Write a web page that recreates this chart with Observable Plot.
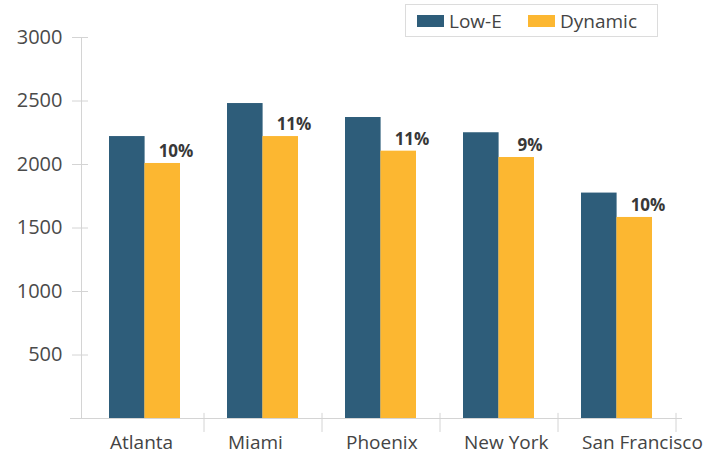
<!DOCTYPE html>
<html>
<head>
<meta charset="utf-8">
<script src="https://cdn.jsdelivr.net/npm/d3@7"></script>
<script src="https://cdn.jsdelivr.net/npm/@observablehq/plot@0.6"></script>
<style>
  html, body { margin: 0; padding: 0; background: #fff; }
  #wrap { position: relative; width: 722px; height: 457px; font-family: "Open Sans", sans-serif; }
  #legend { position: absolute; left: 405px; top: 4px; width: 253px; height: 33px; border: 1px solid #dcdcdc;
    font-size: 19px; color: #444; box-sizing: border-box; }
  .sw { display: inline-block; width: 27px; height: 12px; margin-right: 5px; }
  .item { position: absolute; top: 0; height: 31px; display: flex; align-items: center; }
</style>
</head>
<body>
<div id="wrap"><div id="legend"></div></div>
<script>
const cities = ["Atlanta", "Miami", "Phoenix", "New York", "San Francisco"];
const lowE = [2220, 2480, 2370, 2250, 1775];
const dynamic = [2008, 2220, 2105, 2055, 1583];
const savings = ["10%", "11%", "11%", "9%", "10%"];
const yTicks = [500, 1000, 1500, 2000, 2500, 3000];
const seriesNames = ["Low-E", "Dynamic"];
const seriesColors = ["#2e5d7a", "#fcb731"];

const data = cities.map((c, i) => ({city: c, lowE: lowE[i], dyn: dynamic[i], pct: savings[i]}));
const axisColor = "#d4d4d4";

const chart = Plot.plot({
  width: 722,
  height: 457,
  marginTop: 37,
  marginBottom: 39,
  marginLeft: 81,
  marginRight: 40,
  style: {fontFamily: "'Open Sans', sans-serif", background: "transparent"},
  x: {type: "band", domain: cities, paddingInner: 0.4, paddingOuter: 0.2, insetLeft: 4, insetRight: 7},
  y: {domain: [0, 3000]},
  marks: [
    Plot.frame({anchor: "left", stroke: axisColor}),
    Plot.ruleY([0], {stroke: axisColor, insetLeft: -11}),
    Plot.ruleX(cities, {x: d => d, dx: 59, y1: -110, y2: 40, stroke: axisColor}),
    Plot.axisY({ticks: yTicks, tickSize: 16, dx: 7, stroke: axisColor, strokeOpacity: 1, tickFormat: () => "", label: null}),
    Plot.axisY({ticks: yTicks, tickSize: 0, tickPadding: 19, tickFormat: "d", fontSize: 20, fill: "#4a4a4a", label: null}),
    Plot.axisX({tickSize: 0, tickPadding: 17, fontSize: 19, fill: "#444", textAnchor: "start", dx: -35, label: null}),
    Plot.barY(data, {x: "city", y: "lowE", fill: seriesColors[0], insetRight: 35.4}),
    Plot.barY(data, {x: "city", y: "dyn", fill: seriesColors[1], insetLeft: 35.4}),
    Plot.text(data, {x: "city", y: "dyn", text: "pct", dx: 31, dy: -12, fontSize: 17, fontWeight: 700, fill: "#383838"})
  ]
});
document.getElementById("wrap").prepend(chart);

const legend = document.getElementById("legend");
seriesNames.forEach((name, i) => {
  const item = document.createElement("span");
  item.className = "item";
  item.style.left = i === 0 ? "11px" : "122px";
  item.innerHTML = `<span class="sw" style="background:${seriesColors[i]}"></span>${name}`;
  legend.appendChild(item);
});
</script>
</body>
</html>
